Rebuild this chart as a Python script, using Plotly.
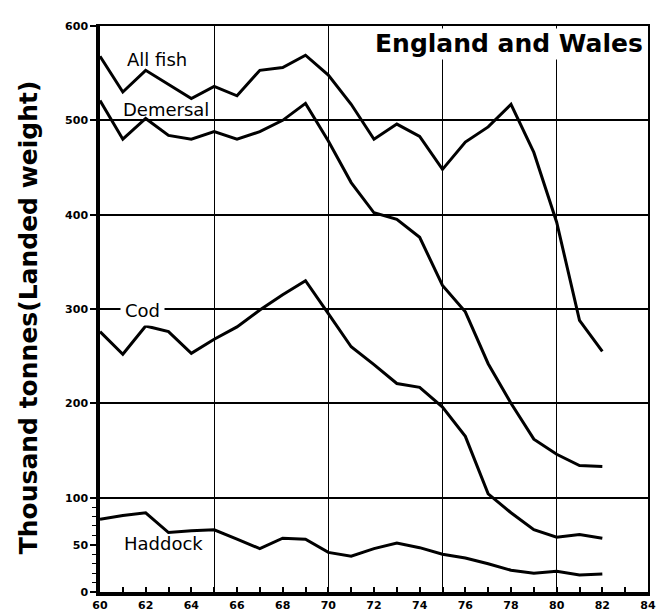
import plotly.graph_objects as go

# ---- data (thousand tonnes, landed weight), England and Wales ----
years = list(range(60, 83))
all_fish = [568, 530, 553, 538, 523, 536, 526, 553, 556, 569, 548, 517, 480,
            496, 483, 448, 477, 493, 517, 466, 392, 288, 255]
demersal = [521, 480, 502, 484, 480, 488, 480, 488, 500, 518, 478, 434, 402,
            395, 376, 325, 297, 242, 200, 162, 146, 134, 133]
cod = [276, 252, 282, 276, 253, 268, 281, 299, 315, 330, 295, 260, 241,
       221, 217, 196, 165, 104, 84, 66, 58, 61, 57]
haddock = [77, 81, 84, 63, 65, 66, 56, 46, 57, 56, 42, 38, 46,
           52, 47, 40, 36, 30, 23, 20, 22, 18, 19]

series_names = ["All fish", "Demersal", "Cod", "Haddock"]
label_x = [62.5, 62.9, 61.85, 62.8]
label_y = [565, 511, 298, 51]

x_ticks = list(range(60, 85))
x_ticktext = [str(v) if v % 2 == 0 else "" for v in x_ticks]
y_ticks = [0, 50, 100, 200, 300, 400, 500, 600]
y_minor = [10, 20, 30, 40, 60, 70, 80, 90]
x_grid = [65, 70, 75, 80]
y_grid = [100, 200, 300, 400, 500]

FONT = "DejaVu Sans"

fig = go.Figure()
for name, vals in zip(series_names, [all_fish, demersal, cod, haddock]):
    fig.add_trace(go.Scatter(x=years, y=vals, mode="lines", name=name,
                             line=dict(color="black", width=3),
                             showlegend=False))
# dummy trace so the grid/border overlay axes exist
fig.add_trace(go.Scatter(x=[None], y=[None], xaxis="x2", yaxis="y2",
                         showlegend=False, hoverinfo="skip"))

annotations = []
for name, lx, ly in zip(series_names, label_x, label_y):
    a = dict(x=lx, y=ly, xref="x", yref="y", text=name, showarrow=False,
             font=dict(family=FONT, size=18, color="black"),
             xanchor="center", yanchor="middle")
    if name == "Cod":
        a.update(bgcolor="white", borderpad=4)
    annotations.append(a)

annotations.append(dict(
    x=(636 - 92) / 548, y=(591 - 14) / 579, xref="paper", yref="paper",
    text="England and Wales", showarrow=False, xanchor="right", yanchor="top",
    height=30, valign="top",
    bgcolor="white", borderpad=0,
    font=dict(family=FONT, size=25, color="black", weight="bold")))

annotations.append(dict(
    x=(20 - 92) / 548, y=(591 - 310) / 579, xref="paper", yref="paper",
    text="Thousand tonnes(Landed weight)", showarrow=False, textangle=-90,
    xanchor="center", yanchor="middle",
    font=dict(family=FONT, size=25, color="black", weight="bold")))

fig.update_layout(
    width=669, height=616,
    margin=dict(l=92, r=29, t=12, b=25),
    paper_bgcolor="white", plot_bgcolor="white",
    font=dict(family=FONT, color="black"),
    xaxis=dict(range=[60, 84], tickmode="array", tickvals=x_ticks,
               ticktext=x_ticktext, ticks="inside", ticklen=5, tickwidth=1.5,
               tickcolor="black", showline=True, linewidth=3.5,
               linecolor="black", showgrid=False, zeroline=False,
               tickfont=dict(family=FONT, size=11, color="black",
                             weight="bold")),
    yaxis=dict(range=[0, 600], tickmode="array", tickvals=y_ticks,
               ticks="outside", ticklen=6, tickwidth=1.5, tickcolor="black",
               showline=True, linewidth=3.5, linecolor="black",
               showgrid=False, zeroline=False,
               tickfont=dict(family=FONT, size=11, color="black",
                             weight="bold"),
               minor=dict(tickmode="array", tickvals=y_minor, ticks="outside",
                          ticklen=4, tickwidth=1.2, tickcolor="black",
                          showgrid=False)),
    xaxis2=dict(range=[60, 84], overlaying="x", side="top", anchor="y2",
                tickmode="array", tickvals=x_grid, showgrid=True,
                gridcolor="black", gridwidth=1.3, showticklabels=False,
                ticks="", showline=True, linewidth=2, linecolor="black",
                zeroline=False),
    yaxis2=dict(range=[0, 600], overlaying="y", side="right", anchor="x2",
                tickmode="array", tickvals=y_grid, showgrid=True,
                gridcolor="black", gridwidth=1.8, showticklabels=False,
                ticks="", showline=True, linewidth=1.5, linecolor="black",
                zeroline=False),
    annotations=annotations,
)

fig.write_html("out.html")
